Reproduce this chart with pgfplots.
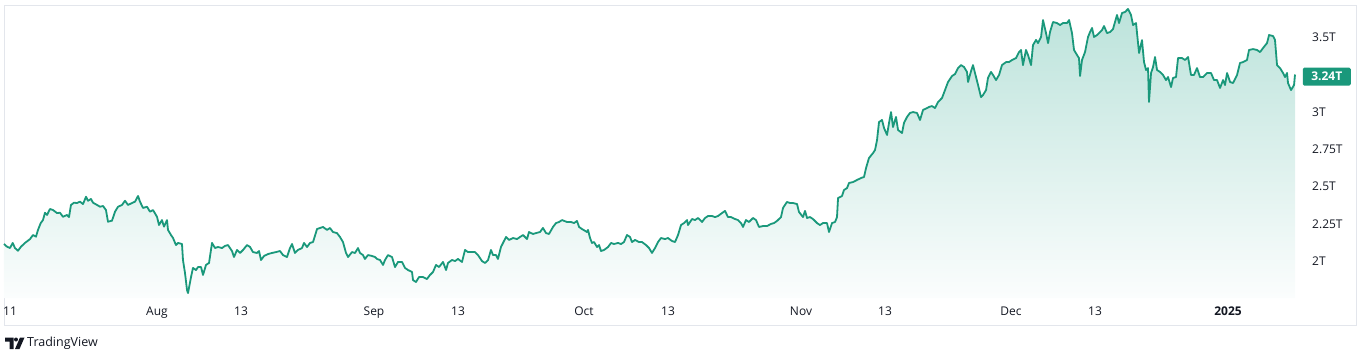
\documentclass[border=0pt]{standalone}
\usepackage{pgfplots}
\pgfplotsset{compat=1.18}
\usepackage{pgfplotstable}
\usepackage{fontspec}
\setmainfont{Open Sans}
\definecolor{tvgreen}{HTML}{1A987B}
\definecolor{tvtop}{HTML}{BCE3DB}
\definecolor{tvbot}{HTML}{FBFDFD}
\definecolor{tvtext}{HTML}{131722}
\definecolor{tvframe}{HTML}{E3E6EC}

\pgfplotstableread{
d v
-0.86 2.107
-0.43 2.089
0.00 2.080
0.39 2.114
0.71 2.080
1.14 2.062
1.57 2.089
2.14 2.114
2.86 2.140
3.29 2.167
3.71 2.156
4.00 2.201
4.39 2.247
4.71 2.267
5.00 2.316
5.29 2.301
5.71 2.341
6.14 2.334
6.71 2.314
7.14 2.316
7.57 2.289
8.14 2.301
8.43 2.287
8.71 2.368
9.14 2.383
9.57 2.381
10.00 2.390
10.43 2.374
10.86 2.423
11.14 2.396
11.57 2.408
11.86 2.383
12.43 2.368
12.86 2.356
13.29 2.361
13.71 2.334
14.00 2.256
14.57 2.263
15.00 2.323
15.43 2.356
16.00 2.368
16.43 2.396
16.86 2.368
17.43 2.381
17.86 2.390
18.29 2.428
18.57 2.390
19.00 2.348
19.57 2.356
20.00 2.323
20.43 2.334
21.00 2.289
21.29 2.234
21.71 2.267
22.00 2.223
22.43 2.267
22.57 2.201
23.00 2.167
23.29 2.147
23.71 2.100
24.00 2.114
24.57 2.107
24.71 2.000
25.00 1.913
25.29 1.799
25.43 1.779
25.86 1.886
26.14 1.947
26.57 1.933
26.86 1.953
27.29 1.953
27.57 1.900
28.00 1.967
28.43 1.980
28.86 2.114
29.29 2.080
29.71 2.087
30.29 2.080
30.71 2.094
31.14 2.100
31.71 2.060
32.00 2.020
32.43 2.067
32.86 2.047
33.29 2.067
33.86 2.100
34.29 2.087
34.71 2.053
35.29 2.047
35.57 2.060
35.86 2.000
36.29 2.027
36.86 2.040
37.43 2.047
38.00 2.053
38.57 2.060
39.00 2.033
39.57 2.020
40.00 2.080
40.29 2.107
40.71 2.047
41.14 2.067
41.71 2.080
42.00 2.114
42.43 2.087
42.86 2.114
43.29 2.120
43.86 2.207
44.29 2.214
44.71 2.221
45.29 2.201
45.71 2.214
46.14 2.187
46.71 2.180
47.14 2.154
47.57 2.120
48.00 2.047
48.29 2.020
48.86 2.053
49.29 2.047
49.71 2.080
50.00 2.047
50.43 2.033
50.71 2.007
51.14 2.033
51.71 2.027
52.14 2.020
52.43 2.007
52.86 2.000
53.29 1.967
53.57 2.000
54.00 2.033
54.57 2.020
55.00 1.953
55.43 1.987
56.00 1.987
56.43 1.947
56.86 1.933
57.43 1.920
57.57 1.866
58.00 1.853
58.43 1.886
59.00 1.886
59.57 1.873
60.00 1.900
60.43 1.920
60.86 1.967
61.29 1.953
61.86 1.987
62.29 1.933
62.57 1.980
63.14 2.000
63.57 1.993
64.00 2.007
64.57 1.987
65.00 2.067
65.43 2.053
66.00 2.053
66.43 2.053
66.86 2.033
67.43 1.993
67.86 1.980
68.29 2.000
68.71 2.067
69.00 2.033
69.43 2.033
69.71 2.007
70.14 2.087
70.43 2.114
70.86 2.154
71.29 2.134
71.86 2.147
72.43 2.140
72.86 2.154
73.29 2.167
73.86 2.140
74.14 2.187
74.71 2.174
75.14 2.180
75.71 2.187
76.14 2.214
76.57 2.180
77.00 2.174
77.57 2.221
78.00 2.247
78.43 2.254
78.86 2.267
79.57 2.254
80.14 2.254
80.57 2.247
81.00 2.261
81.29 2.221
81.71 2.207
82.43 2.187
82.57 2.201
82.86 2.147
83.14 2.114
83.43 2.120
83.86 2.087
84.14 2.100
84.43 2.060
84.86 2.067
85.43 2.087
85.86 2.114
86.29 2.107
86.86 2.114
87.29 2.107
87.71 2.120
88.14 2.167
88.57 2.154
88.86 2.120
89.29 2.134
89.86 2.120
90.29 2.120
90.86 2.100
91.29 2.080
91.71 2.047
92.14 2.080
92.57 2.120
93.00 2.147
93.57 2.140
94.00 2.147
94.57 2.127
95.00 2.120
95.43 2.167
95.86 2.234
96.29 2.247
96.71 2.267
96.86 2.234
97.43 2.274
97.86 2.267
98.29 2.281
98.86 2.254
99.29 2.281
99.71 2.294
100.29 2.294
100.71 2.287
101.14 2.294
101.71 2.314
102.14 2.328
102.57 2.287
103.00 2.287
103.57 2.274
104.00 2.267
104.43 2.247
104.71 2.221
105.14 2.267
105.57 2.254
106.14 2.281
106.57 2.267
107.00 2.221
107.57 2.227
108.14 2.227
108.71 2.241
109.14 2.247
109.57 2.261
110.14 2.287
110.43 2.348
111.00 2.388
111.43 2.381
111.86 2.381
112.43 2.374
112.71 2.321
113.29 2.287
113.57 2.328
113.86 2.281
114.29 2.287
114.71 2.274
115.29 2.247
115.71 2.234
116.14 2.247
116.71 2.247
117.00 2.187
117.43 2.247
117.86 2.254
118.14 2.287
118.29 2.414
118.86 2.428
119.14 2.468
119.57 2.481
119.86 2.515
120.43 2.521
121.00 2.535
121.57 2.548
122.00 2.555
122.29 2.615
122.71 2.682
123.29 2.715
123.57 2.735
123.86 2.802
124.14 2.922
124.57 2.936
124.86 2.882
125.29 2.836
125.57 2.916
125.86 2.989
126.14 2.889
126.57 2.956
126.86 2.869
127.43 2.849
127.71 2.916
128.14 2.956
128.57 2.983
129.00 2.989
129.57 2.983
130.00 2.936
130.43 3.003
131.00 3.016
131.29 3.023
131.71 3.029
132.14 3.016
132.57 3.056
133.14 3.083
133.57 3.136
134.00 3.190
134.57 3.230
135.00 3.243
135.43 3.283
135.86 3.303
136.29 3.290
136.71 3.257
136.86 3.190
137.29 3.263
137.57 3.303
138.00 3.223
138.29 3.170
138.71 3.089
139.00 3.103
139.43 3.136
139.71 3.217
140.14 3.257
140.43 3.237
140.86 3.203
141.29 3.237
141.71 3.303
142.29 3.323
142.71 3.323
143.14 3.337
143.71 3.350
144.14 3.390
144.43 3.404
144.71 3.303
145.14 3.404
145.43 3.370
145.86 3.303
146.14 3.437
146.57 3.471
146.86 3.450
147.29 3.491
147.57 3.604
148.00 3.517
148.29 3.450
148.57 3.524
149.00 3.591
149.57 3.584
150.00 3.571
150.43 3.584
151.00 3.584
151.29 3.604
151.71 3.517
152.00 3.404
152.43 3.370
152.71 3.350
152.86 3.230
153.14 3.337
153.57 3.390
154.00 3.491
154.29 3.524
154.57 3.551
154.86 3.491
155.29 3.504
155.57 3.517
156.00 3.537
156.29 3.564
156.71 3.517
157.14 3.524
157.57 3.544
158.14 3.638
158.43 3.584
158.86 3.651
159.29 3.658
159.71 3.678
160.14 3.638
160.43 3.571
160.86 3.584
161.00 3.517
161.29 3.384
161.71 3.470
162.00 3.323
162.29 3.270
162.57 3.283
162.71 3.056
163.00 3.250
163.29 3.290
163.57 3.357
163.86 3.270
164.29 3.257
164.71 3.237
165.14 3.203
165.43 3.223
165.86 3.156
166.14 3.217
166.57 3.223
166.86 3.350
167.43 3.350
167.86 3.337
168.29 3.357
168.71 3.237
169.14 3.237
169.57 3.283
170.00 3.223
170.43 3.223
171.00 3.250
171.57 3.250
172.00 3.203
172.43 3.203
172.86 3.150
173.29 3.203
173.57 3.170
173.86 3.250
174.29 3.190
174.71 3.183
175.29 3.237
175.71 3.317
176.14 3.323
176.71 3.337
177.00 3.404
177.57 3.410
178.14 3.404
178.57 3.390
179.00 3.417
179.57 3.450
179.86 3.504
180.43 3.497
180.71 3.471
181.00 3.303
181.43 3.283
181.86 3.250
182.14 3.223
182.43 3.250
182.57 3.183
183.00 3.136
183.43 3.170
183.57 3.240
}\mcap

\begin{document}
\begin{tikzpicture}[x=1pt,y=1pt]
\path[use as bounding box] (0,0) rectangle (1366,-361);
\draw[tvframe, line width=1pt] (4,-6) rectangle (1356,-325);
\begin{axis}[
  at={(4pt,-298pt)}, anchor=south west,
  scale only axis, width=1299pt, height=292pt,
  xmin=-0.857, xmax=184.71, ymin=1.746, ymax=3.698,
  axis line style={draw=none},
  major tick length=0pt,
  xtick={0,21,33,52,64,82,94,113,125,143,155,174},
  xticklabels={11,Aug,13,Sep,13,Oct,13,Nov,13,Dec,13,\textbf{2025}},
  ytick={2,2.25,2.5,2.75,3,3.5},
  yticklabels={2T,2.25T,2.5T,2.75T,3T,3.5T},
  yticklabel pos=right,
  yticklabel style={anchor=west, inner sep=0pt, xshift=9pt, yshift=-1.5pt},
  xticklabel style={anchor=base, inner sep=0pt, yshift=-17pt},
  tick label style={font=\fontsize{12}{14}\selectfont, text=tvtext},
  clip=false,
]
\addplot[draw=none, top color=tvtop, bottom color=tvbot] table[x=d,y=v] {\mcap}
  -- (axis cs:183.57,1.746) -- (axis cs:-0.86,1.746) -- cycle;
\addplot[tvgreen, line width=1.8pt, line join=round] table[x=d,y=v] {\mcap};
\node[fill=tvgreen, text=white, font=\fontsize{12}{14}\selectfont\bfseries,
  rounded corners=1.5pt, minimum width=48pt, minimum height=18pt, inner sep=0pt,
  anchor=west] at (axis cs:184.65,3.226) {3.24T};
\end{axis}
\fill[tvtext] (5,-337.5) -- (13.5,-337.5) -- (13.5,-349) -- (9.5,-349) -- (9.5,-341.5) -- (5,-341.5) -- cycle;
\fill[tvtext] (16,-339.5) circle (2);
\fill[tvtext] (20,-337.5) -- (24.5,-337.5) -- (19.5,-349) -- (15,-349) -- cycle;
\node[anchor=west, font=\fontsize{12.5}{14}\selectfont, text=tvtext, inner sep=0pt] at (27,-343.5) {TradingView};
\end{tikzpicture}
\end{document}
